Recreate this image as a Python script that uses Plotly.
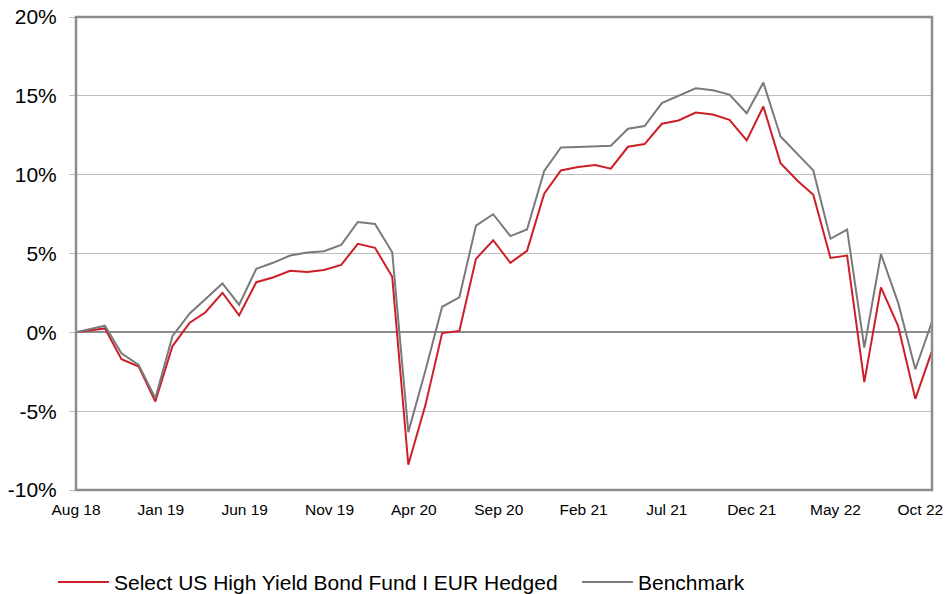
import plotly.graph_objects as go

# ---- data ----
months = ["2018-08-01"] + [
    f"{y}-{m:02d}-22" for y in range(2018, 2023) for m in range(1, 13)
    if (y, m) >= (2018, 9) and (y, m) <= (2022, 10)
]
fund = [0, 0.25, -1.71, -2.17, -4.39, -0.87, 0.61, 1.26, 2.51, 1.07, 3.18, 3.48,
        3.90, 3.82, 3.96, 4.28, 5.61, 5.36, 3.52, -8.40, -4.6, -0.05, 0.08, 4.66,
        5.84, 4.41, 5.17, 8.80, 10.27, 10.48, 10.61, 10.38, 11.77, 11.94, 13.23,
        13.44, 13.94, 13.82, 13.48, 12.17, 14.32, 10.73, 9.6, 8.73, 4.72, 4.87,
        -3.16, 2.85, 0.40, -4.22, -1.18]
bench = [0, 0.42, -1.33, -2.07, -4.18, -0.23, 1.20, 2.13, 3.10, 1.75, 4.03, 4.41,
         4.87, 5.06, 5.15, 5.55, 7.00, 6.87, 5.08, -6.33, -2.4, 1.62, 2.22, 6.77,
         7.49, 6.10, 6.52, 10.23, 11.73, 11.75, 11.79, 11.83, 12.91, 13.08, 14.54,
         14.98, 15.48, 15.36, 15.08, 13.90, 15.84, 12.42, 11.3, 10.27, 5.93, 6.52,
         -0.97, 4.96, 1.87, -2.34, 0.67]
tick_dates = ["2018-08-01", "2019-01-01", "2019-06-01", "2019-11-01", "2020-04-01",
              "2020-09-01", "2021-02-01", "2021-07-01", "2021-12-01", "2022-05-01",
              "2022-10-01"]
tick_labels = ["Aug 18", "Jan 19", "Jun 19", "Nov 19", "Apr 20", "Sep 20", "Feb 21",
               "Jul 21", "Dec 21", "May 22", "Oct 22"]
y_ticks = [-10, -5, 0, 5, 10, 15, 20]
y_labels = ["-10%", "-5%", "0%", "5%", "10%", "15%", "20%"]
names = ["Select US High Yield Bond Fund I EUR Hedged", "Benchmark"]

RED = "#cc1f27"
GREY = "#7a7a7a"
FONT = "Liberation Sans, Arial, sans-serif"
x_range = [months[0], months[-1]]

fig = go.Figure()
fig.add_trace(go.Scatter(x=months, y=fund, mode="lines", name=names[0],
                         line=dict(color=RED, width=2), legendwidth=458))
fig.add_trace(go.Scatter(x=months, y=bench, mode="lines", name=names[1],
                         line=dict(color=GREY, width=2)))

fig.update_layout(
    width=945, height=594,
    margin=dict(l=76, r=13, t=17, b=104, autoexpand=False),
    paper_bgcolor="white", plot_bgcolor="white",
    font=dict(family=FONT, color="#000000"),
    showlegend=True,
    legend=dict(orientation="h", x=-0.0269, xanchor="left", y=-0.195, yanchor="middle",
                font=dict(size=21, family=FONT), itemwidth=51,
                traceorder="normal"),
    xaxis=dict(type="date", range=x_range, tickvals=tick_dates, ticktext=tick_labels,
               showgrid=False, zeroline=False, showline=False, ticks="",
               automargin=False,
               tickfont=dict(size=15.5, family=FONT), ticklabelstandoff=8),
    xaxis2=dict(type="date", range=x_range, tickvals=tick_dates, overlaying="x",
                anchor="free", position=1/3, showticklabels=False, showgrid=False,
                zeroline=False, showline=False, ticks="outside", ticklen=5,
                tickcolor="#8c8c8c", tickwidth=1, automargin=False),
    yaxis=dict(range=[-10, 20], tickvals=y_ticks, ticktext=y_labels,
               showgrid=True, gridcolor="#bdbdbd", gridwidth=1.3,
               zeroline=True, zerolinecolor="#8c8c8c", zerolinewidth=1.5,
               showline=False, ticks="outside", ticklen=6, tickcolor="#bdbdbd",
               automargin=False,
               tickfont=dict(size=21, family=FONT), ticklabelstandoff=8),
)
fig.add_shape(type="rect", xref="paper", yref="paper", x0=0, x1=1, y0=0, y1=1,
              line=dict(color="#8c8c8c", width=2.5), fillcolor="rgba(0,0,0,0)",
              layer="above")
fig.write_html("out.html", config={"displayModeBar": False},
               post_script="document.body.style.margin='0px';")
